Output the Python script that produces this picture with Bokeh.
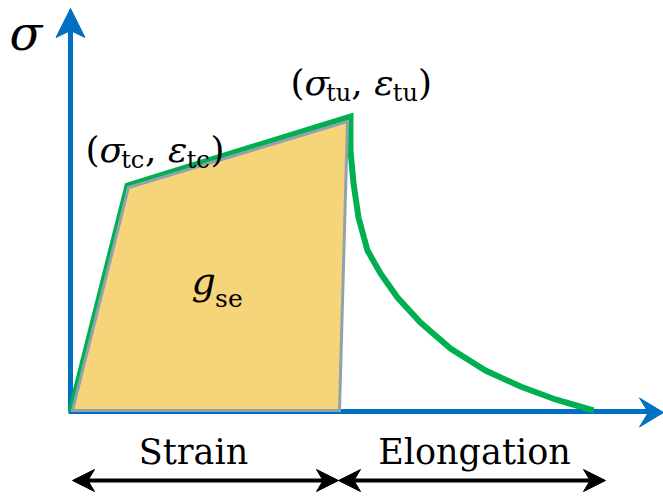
from bokeh.plotting import figure
from bokeh.models import Range1d
from bokeh.core.properties import value
from bokeh.embed import file_html
from bokeh.resources import INLINE

# Schematic stress-strain curve (arbitrary units, origin at the axes corner)
curve_strain = [0, 57, 280, 280, 283, 288, 297, 310, 327, 350, 380, 415, 450, 485, 523]
curve_stress = [0, 226, 295, 261, 228, 194, 161, 138, 114, 89, 63, 41, 25, 12, 1]

# Strain-energy region g_se (loading path, unloading line)
area_strain = [2, 58, 277, 269]
area_stress = [1, 224, 290, 1]

# Characteristic points: cracking (tc) and ultimate (tu)
tc_point = (57, 226)
tu_point = (280, 295)

# Axis extents and range-arrow extents
y_axis_top = 403
x_axis_end = 593
range_y = -69
strain_span = (2, 268)
elong_span = (268, 535)
range_labels = ["Strain", "Elongation"]

FONT = value("DejaVu Serif")
BLUE = "#0070C0"
GREEN = "#00B050"
FILL = "#F5D47A"
EDGE = "#8FA3AD"

# approximate advance widths (em) of the serif face, for placing subscripts
ADV = {"(": 0.39, ")": 0.39, ",": 0.318, " ": 0.318, "σ": 0.60, "ε": 0.52,
       "t": 0.402, "c": 0.593, "u": 0.644, "s": 0.513, "e": 0.592, "g": 0.62}
# the rendered baseline sits lower than requested; lift text by this share of its size
LIFT = 0.37

p = figure(width=663, height=498, output_backend="svg", toolbar_location=None,
           x_range=Range1d(-70, 593), y_range=Range1d(-87, 411),
           min_border=0, outline_line_color=None, background_fill_color="white",
           border_fill_color="white")
p.axis.visible = False
p.grid.visible = False


def arrow_head(tip, direction, length, half_width, notch):
    dx, dy = direction
    px, py = -dy, dx
    tx, ty = tip
    bx, by = tx - dx * length, ty - dy * length
    xs = [tx, bx + px * half_width, tx - dx * length * notch, bx - px * half_width]
    ys = [ty, by + py * half_width, ty - dy * length * notch, by - py * half_width]
    return xs, ys


# Axes with arrowheads
p.line([0, 0], [0, y_axis_top - 20], line_color=BLUE, line_width=5)
p.line([-2, x_axis_end - 14], [0, 0], line_color=BLUE, line_width=5)
hx, hy = arrow_head((0, y_axis_top), (0, 1), 29, 14.5, 0.76)
p.patch(hx, hy, fill_color=BLUE, line_color=BLUE, line_width=1)
hx, hy = arrow_head((x_axis_end, -1), (1, 0), 24, 14.5, 0.63)
p.patch(hx, hy, fill_color=BLUE, line_color=BLUE, line_width=1)

# Stress-strain curve and energy area
p.line(curve_strain, curve_stress, line_color=GREEN, line_width=6,
       line_join="miter", line_cap="butt")
p.patch(area_strain, area_stress, fill_color=FILL, line_color=EDGE, line_width=3,
        line_join="miter")

# Range arrows under the x axis
for a, b in (strain_span, elong_span):
    p.line([a + 10, b - 10], [range_y, range_y], line_color="black", line_width=4)
    for tip, d in (((a, range_y), (-1, 0)), ((b, range_y), (1, 0))):
        hx, hy = arrow_head(tip, d, 22, 11, 0.7)
        p.patch(hx, hy, fill_color="black", line_color="black", line_width=1)


def rich_text(x0, y0, runs):
    # runs: (text, size_px, style, baseline_drop_px); laid out left to right
    x = x0
    for t, s, st, drop in runs:
        p.text([x], [y0 - drop + LIFT * s], text=[t], text_font=FONT,
               text_font_size=f"{s}px", text_font_style=st,
               text_align="left", text_baseline="alphabetic", text_color="black")
        x += sum(ADV.get(ch, 0.55) for ch in t) * s


MAIN, SUB, DROP = 36, 24, 6


def point_label(sub, anchor, off):
    rich_text(anchor[0] + off[0], anchor[1] - off[1], [
        ("(", MAIN, "normal", 0),
        ("σ", MAIN, "italic", 0),
        (sub, SUB, "normal", DROP),
        (", ", MAIN, "normal", 0),
        ("ε", MAIN, "italic", 0),
        (sub, SUB, "normal", DROP),
        (")", MAIN, "normal", 0),
    ])


point_label("tc", tc_point, (-42, -23))
point_label("tu", tu_point, (-60, -21))

# Area label g_se
rich_text(121, 116, [("g", 38, "italic", 0), ("se", 25, "normal", 12)])

# Axis label
rich_text(-61, 361, [("σ", 48, "italic", 0)])

# Range captions, centred under their arrows
CAP = 35
p.text([123, 404], [-53 + LIFT * CAP] * 2, text=range_labels, text_font=FONT,
       text_font_size=f"{CAP}px", text_align="center", text_baseline="alphabetic",
       text_color="black")

open("out.html", "w").write(file_html(p, INLINE))
